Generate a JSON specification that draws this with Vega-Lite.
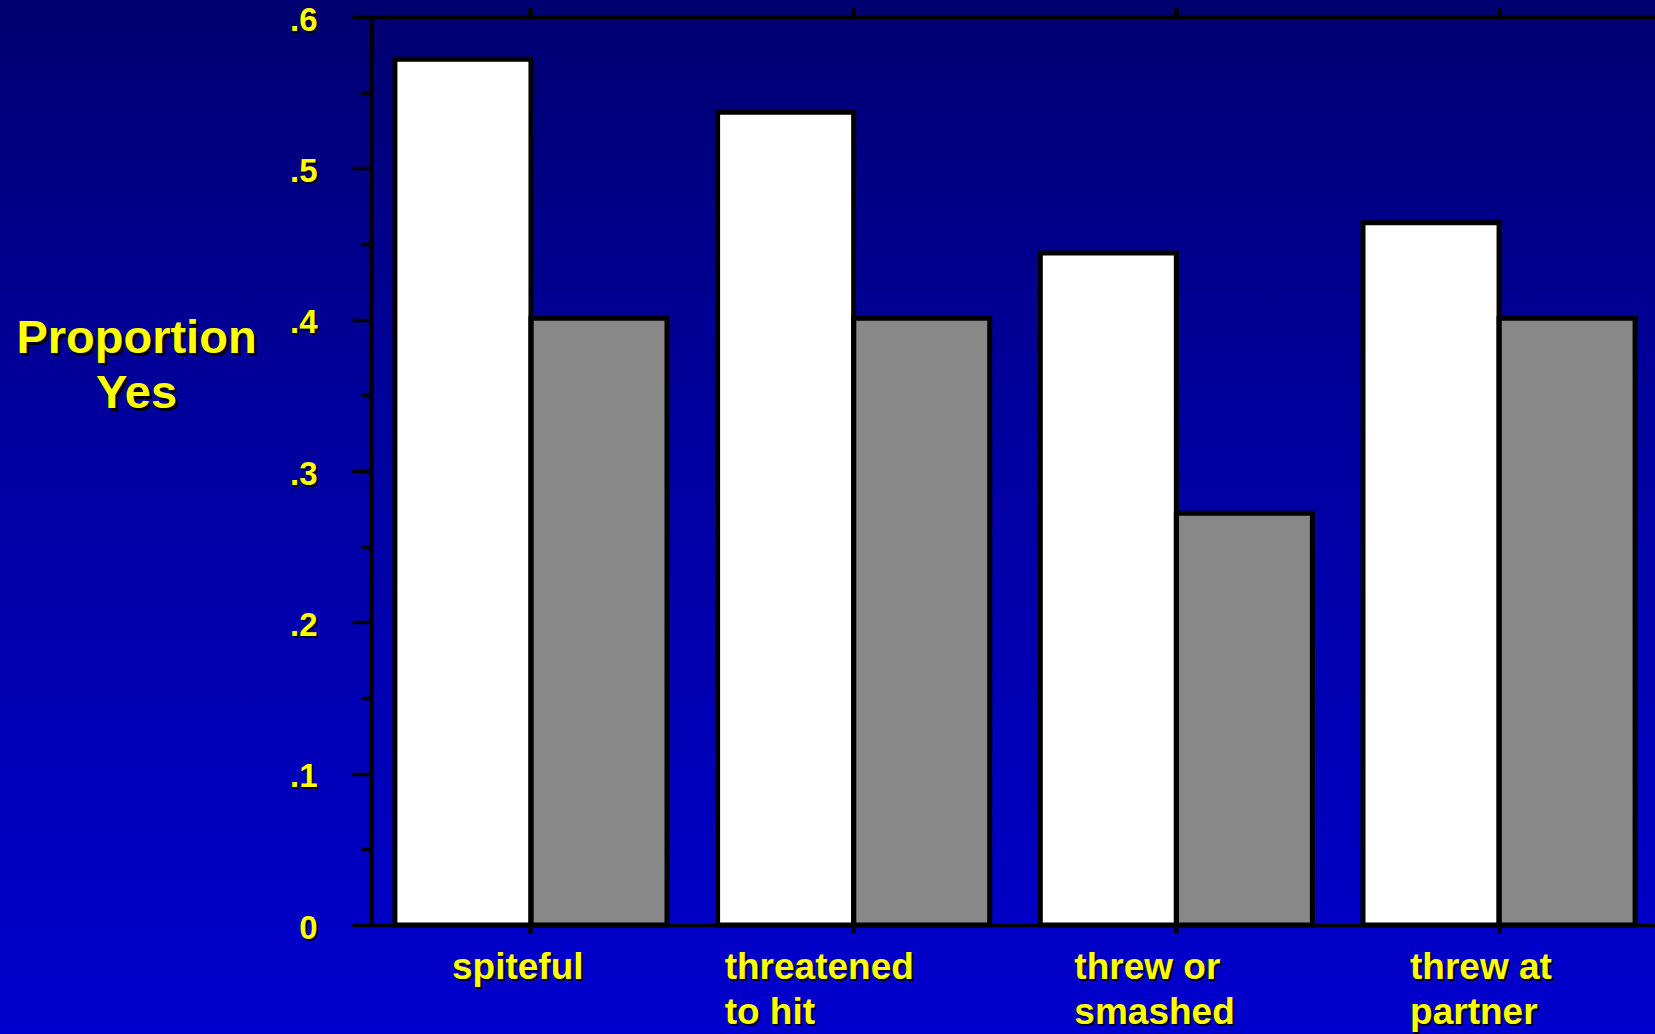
{
  "$schema": "https://vega.github.io/schema/vega-lite/v6.json",
  "width": 1655,
  "height": 1034,
  "autosize": {"type": "none"},
  "padding": 0,
  "background": "#00009C",
  "config": {
    "view": {
      "stroke": null,
      "fill": {"gradient": "linear", "x1": 0, "y1": 0, "x2": 0, "y2": 1,
        "stops": [{"offset": 0, "color": "#000070"}, {"offset": 0.35, "color": "#000098"}, {"offset": 1, "color": "#0000CE"}]}
    },
    "font": "Liberation Sans",
    "axis": {"labelFont": "Liberation Sans", "titleFont": "Liberation Sans", "grid": false, "labelOverlap": false, "labelBound": false, "labelFlush": false, "labelLimit": 0}
  },
  "data": {"values": [
    {"behavior": "spiteful", "group": "Group 1", "proportion": 0.572},
    {"behavior": "spiteful", "group": "Group 2", "proportion": 0.401},
    {"behavior": "threatened to hit", "group": "Group 1", "proportion": 0.537},
    {"behavior": "threatened to hit", "group": "Group 2", "proportion": 0.401},
    {"behavior": "threw or smashed", "group": "Group 1", "proportion": 0.444},
    {"behavior": "threw or smashed", "group": "Group 2", "proportion": 0.272},
    {"behavior": "threw at partner", "group": "Group 1", "proportion": 0.464},
    {"behavior": "threw at partner", "group": "Group 2", "proportion": 0.401}
  ]},
  "layer": [
    {
      "transform": [{"filter": "datum.group === 'Group 1'"}],
      "mark": {"type": "bar", "fill": "#FFFFFF"},
      "encoding": {
        "x": {"field": "behavior", "type": "nominal",
          "sort": ["spiteful", "threatened to hit", "threw or smashed", "threw at partner"],
          "scale": {"range": [369.6, 1660.4], "paddingInner": 0, "paddingOuter": 0},
          "axis": {"orient": "bottom", "offset": -109, "title": null,
            "domain": true, "domainColor": "black", "domainWidth": 3.5,
            "ticks": true, "tickColor": "black", "tickWidth": 4.5, "tickSize": 8,
            "labelColor": "#FFFF00", "labelFontSize": 37, "labelFontWeight": "bold", "labelLimit": 0,
            "labelAlign": "left", "labelBaseline": "alphabetic", "labelPadding": 45, "labelLineHeight": 45, "labelAngle": 0,
            "labelOffset": {"condition": [
              {"test": "datum.value === 'spiteful'", "value": -79},
              {"test": "datum.value === 'threatened to hit'", "value": -129},
              {"test": "datum.value === 'threw or smashed'", "value": -102}], "value": -89},
            "labelExpr": "datum.label === 'threatened to hit' ? ['threatened', 'to hit'] : datum.label === 'threw or smashed' ? ['threw or', 'smashed'] : datum.label === 'threw at partner' ? ['threw at', 'partner'] : datum.label",
            "zindex": 2}
        },
        "xOffset": {"field": "group", "type": "nominal", "scale": {"domain": ["Group 1", "Group 2"], "paddingInner": 0, "paddingOuter": 0.186}},
        "y": {"field": "proportion", "type": "quantitative",
          "scale": {"domain": [0, 0.6], "range": [925, 17], "nice": false},
          "axis": {"orient": "left", "offset": -371,
            "values": [0, 0.05, 0.1, 0.15, 0.2, 0.25, 0.3, 0.35, 0.4, 0.45, 0.5, 0.55, 0.6],
            "domain": true, "domainColor": "black", "domainWidth": 5,
            "ticks": true, "tickColor": "black", "tickWidth": 3.5,
            "tickSize": {"condition": {"test": "round(datum.value*20) % 2 === 1", "value": 10}, "value": 19},
            "labelExpr": "round(datum.value*20) % 2 === 1 ? '' : (datum.value === 0 ? '0' : slice(format(datum.value, '.1f'), 1))",
            "labelColor": "#FFFF00", "labelFontSize": 33, "labelFontWeight": "bold", "labelPadding": 35, "labelOffset": 3,
            "title": ["Proportion", "Yes"], "titleAngle": 0, "titleX": -235, "titleY": 352,
            "titleAlign": "center", "titleBaseline": "alphabetic", "titleFontSize": 47, "titleFontWeight": "bold",
            "titleColor": "#FFFF00", "titleLineHeight": 55,
            "zindex": 2}
        }
      }
    },
    {
      "transform": [{"filter": "datum.group === 'Group 2'"}],
      "mark": {"type": "bar", "fill": "#888888"},
      "encoding": {
        "x": {"field": "behavior", "type": "nominal",
          "sort": ["spiteful", "threatened to hit", "threw or smashed", "threw at partner"],
          "axis": {"orient": "top", "offset": -17, "title": null,
            "domain": true, "domainColor": "black", "domainWidth": 3.5,
            "ticks": true, "tickColor": "black", "tickWidth": 5, "tickSize": 9,
            "labels": false, "zindex": 1}
        },
        "xOffset": {"field": "group", "type": "nominal", "scale": {"domain": ["Group 1", "Group 2"]}},
        "y": {"field": "proportion", "type": "quantitative",
          "axis": {"orient": "left", "offset": -371,
            "values": [0, 0.05, 0.1, 0.15, 0.2, 0.25, 0.3, 0.35, 0.4, 0.45, 0.5, 0.55, 0.6],
            "domain": false, "ticks": false, "tickSize": 0,
            "labelExpr": "round(datum.value*20) % 2 === 1 ? '' : (datum.value === 0 ? '0' : slice(format(datum.value, '.1f'), 1))",
            "labelColor": "black", "labelFontSize": 33, "labelFontWeight": "bold", "labelPadding": 52, "labelOffset": 5,
            "title": ["Proportion", "Yes"], "titleAngle": 0, "titleX": -232, "titleY": 355,
            "titleAlign": "center", "titleBaseline": "alphabetic", "titleFontSize": 47, "titleFontWeight": "bold",
            "titleColor": "black", "titleLineHeight": 55,
            "zindex": 1}
        }
      }
    },
    {
      "mark": {"type": "bar", "filled": false, "color": "black", "strokeWidth": 5},
      "encoding": {
        "x": {"field": "behavior", "type": "nominal",
          "sort": ["spiteful", "threatened to hit", "threw or smashed", "threw at partner"],
          "axis": {"orient": "bottom", "offset": -109, "title": null,
            "domain": false, "ticks": false, "tickSize": 0,
            "labelColor": "black", "labelFontSize": 37, "labelFontWeight": "bold", "labelLimit": 0,
            "labelAlign": "left", "labelBaseline": "alphabetic", "labelPadding": 55, "labelLineHeight": 45, "labelAngle": 0,
            "labelOffset": {"condition": [
              {"test": "datum.value === 'spiteful'", "value": -77},
              {"test": "datum.value === 'threatened to hit'", "value": -127},
              {"test": "datum.value === 'threw or smashed'", "value": -100}], "value": -87},
            "labelExpr": "datum.label === 'threatened to hit' ? ['threatened', 'to hit'] : datum.label === 'threw or smashed' ? ['threw or', 'smashed'] : datum.label === 'threw at partner' ? ['threw at', 'partner'] : datum.label",
            "zindex": 1}
        },
        "xOffset": {"field": "group", "type": "nominal"},
        "y": {"field": "proportion", "type": "quantitative", "axis": null}
      }
    }
  ],
  "resolve": {"axis": {"x": "independent", "y": "independent"}}
}
